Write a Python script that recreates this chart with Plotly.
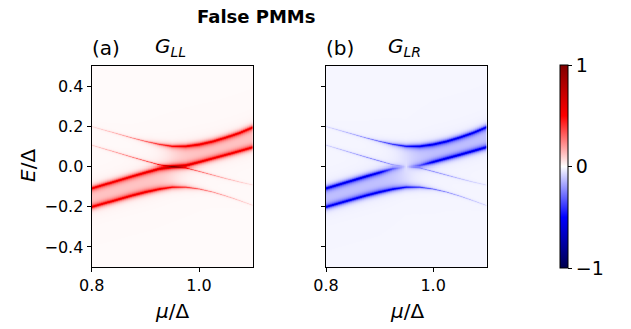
import numpy as np
import plotly.graph_objects as go

# ---- data ----
mu_pts = [0.80, 0.825, 0.85, 0.875, 0.90, 0.925, 0.95, 0.975, 1.00, 1.025, 1.05, 1.075, 1.10]
E_upper = [0.200, 0.181, 0.162, 0.143, 0.126, 0.111, 0.101, 0.101, 0.110, 0.125, 0.145, 0.168, 0.196]
E_lower = [-0.200, -0.181, -0.162, -0.143, -0.126, -0.111, -0.101, -0.101, -0.110, -0.125, -0.145, -0.168, -0.192]
E_asc = [-0.107, -0.087, -0.067, -0.047, -0.028, -0.009, 0.000, 0.005, 0.022, 0.040, 0.058, 0.077, 0.096]
E_desc = [0.107, 0.087, 0.067, 0.047, 0.028, 0.009, 0.000, -0.005, -0.022, -0.040, -0.058, -0.075, -0.090]
# peak strength of each branch (G_LL)
S_upper = [0.06, 0.10, 0.15, 0.21, 0.28, 0.35, 0.40, 0.42, 0.42, 0.42, 0.42, 0.42, 0.42]
S_lower = [0.42, 0.42, 0.42, 0.42, 0.42, 0.42, 0.40, 0.35, 0.28, 0.21, 0.15, 0.10, 0.06]
S_asc = [0.42, 0.42, 0.42, 0.42, 0.44, 0.48, 0.50, 0.48, 0.44, 0.42, 0.42, 0.42, 0.42]
S_desc = [0.08, 0.13, 0.18, 0.24, 0.30, 0.36, 0.38, 0.32, 0.26, 0.20, 0.14, 0.09, 0.05]
# how "broad" each branch is (0 = thin line, 1 = broad line with halo)
K_upper = [0, 0, 0, 0, 0.1, 0.35, 0.6, 0.85, 1, 1, 1, 1, 1]
K_lower = [1, 1, 1, 1, 1, 0.85, 0.6, 0.35, 0.1, 0, 0, 0, 0]
K_asc = [1] * 13
K_desc = [0] * 13
# suppression of the crossing branches in G_LR near zero energy
gap_LR = [1, 1, 1, 1, 0.9, 0.45, 0.0, 0.45, 0.9, 1, 1, 1, 1]
band_level = 0.09
bg_LL, bg_LR = 0.01, 0.018

x_ticks = [0.8, 1.0]
x_ticktext = ["0.8", "1.0"]
y_ticks = [-0.4, -0.2, 0.0, 0.2, 0.4]
y_ticktext = ["\u22120.4", "\u22120.2", "0.0", "0.2", "0.4"]
cb_ticks = [-1, 0, 1]
cb_ticktext = ["\u22121", "0", "1"]

# ---- build maps ----
mu = np.linspace(0.8, 1.1, 241)
E = np.linspace(-0.5, 0.5, 401)
M, EE = np.meshgrid(mu, E)


def interp(a):
    return np.interp(mu, mu_pts, a)[None, :]


def branch(Ec, S, K, G=None):
    ec, s, k = interp(Ec), interp(S), interp(K)
    if G is not None:
        s = s * interp(G)
        g = interp(G)
    else:
        g = 1.0
    w = 0.0025 + 0.0045 * k
    line = s * w ** 2 / ((EE - ec) ** 2 + w ** 2)
    halo = 0.10 * k * g * np.exp(-(EE - ec) ** 2 / (2 * 0.014 ** 2))
    return line + halo


def sig(x):
    return 1.0 / (1.0 + np.exp(-x / 0.006))


wl = 1.0 / (1.0 + np.exp((M - 0.95) / 0.012))
band = wl * sig(EE - interp(E_lower)) * sig(interp(E_asc) - EE) + \
    (1 - wl) * sig(EE - interp(E_asc)) * sig(interp(E_upper) - EE)

zLL = bg_LL + band_level * band + branch(E_upper, S_upper, K_upper) + branch(E_lower, S_lower, K_lower) \
    + branch(E_asc, S_asc, K_asc) + branch(E_desc, S_desc, K_desc)
zLR = -(bg_LR + band_level * band + 0.95 * branch(E_upper, S_upper, K_upper) + 0.95 * branch(E_lower, S_lower, K_lower)
        + branch(E_asc, S_asc, K_asc, gap_LR) + 0.8 * branch(E_desc, S_desc, K_desc, gap_LR))
zLL = np.clip(zLL, -1, 1).astype(np.float32)
zLR = np.clip(zLR, -1, 1).astype(np.float32)

seismic = [[0.0, "rgb(0,0,77)"], [0.25, "rgb(0,0,255)"], [0.5, "rgb(255,255,255)"],
           [0.75, "rgb(255,0,0)"], [1.0, "rgb(128,0,0)"]]

W, H = 631, 329
fig = go.Figure()
fig.add_trace(go.Heatmap(x=mu, y=E, z=zLL, zmin=-1, zmax=1, colorscale=seismic, showscale=False,
                         xaxis="x", yaxis="y", hoverinfo="skip"))
fig.add_trace(go.Heatmap(x=mu, y=E, z=zLR, zmin=-1, zmax=1, colorscale=seismic, showscale=True,
                         xaxis="x2", yaxis="y2", hoverinfo="skip",
                         colorbar=dict(x=560 / W, xanchor="left", xpad=0, ypad=0, thickness=8,
                                       lenmode="pixels", len=203, y=1 - 65 / H, yanchor="top",
                                       outlinewidth=1, outlinecolor="black",
                                       tickvals=cb_ticks, ticktext=cb_ticktext, ticks="outside",
                                       ticklen=4, tickcolor="black",
                                       tickfont=dict(size=19, color="black"))))

axis_common = dict(showgrid=False, zeroline=False, showline=True, mirror=True, linecolor="black",
                   linewidth=1.2, ticks="outside", ticklen=4, tickcolor="black", automargin=False,
                   tickfont=dict(size=16, color="black"))
ydom = [1 - 267 / H, 1 - 66 / H]
fig.update_layout(
    width=W, height=H, margin=dict(l=0, r=0, t=0, b=0, pad=0, autoexpand=False),
    paper_bgcolor="white", plot_bgcolor="white",
    font=dict(family="DejaVu Sans", color="black"),
    xaxis=dict(domain=[91.7 / W, 252.7 / W], range=[0.8, 1.1], tickvals=x_ticks, ticktext=x_ticktext,
               anchor="y", **axis_common),
    yaxis=dict(domain=ydom, range=[-0.5, 0.5], tickvals=y_ticks, ticktext=y_ticktext,
               anchor="x", **axis_common),
    xaxis2=dict(domain=[326 / W, 486.7 / W], range=[0.8, 1.1], tickvals=x_ticks, ticktext=x_ticktext,
                anchor="y2", **axis_common),
    yaxis2=dict(domain=ydom, range=[-0.5, 0.5], tickvals=y_ticks, showticklabels=False,
                anchor="x2", **axis_common),
)

ann = [
    dict(text="<b>False PMMs</b>", x=256 / W, y=1 - 16 / H, xanchor="center", yanchor="middle",
         font=dict(size=18)),
    dict(text="(a)", x=90 / W, y=1 - 48 / H, xanchor="left", yanchor="middle", font=dict(size=20)),
    dict(text="<i>G</i><sub><i>LL</i></sub>", x=153 / W, y=1 - 47 / H, xanchor="left", yanchor="middle",
         font=dict(size=20)),
    dict(text="(b)", x=324 / W, y=1 - 48 / H, xanchor="left", yanchor="middle", font=dict(size=20)),
    dict(text="<i>G</i><sub><i>LR</i></sub>", x=386 / W, y=1 - 47 / H, xanchor="left", yanchor="middle",
         font=dict(size=20)),
    dict(text="<i>E</i>/\u0394", x=28 / W, y=1 - 166 / H, xanchor="center", yanchor="middle",
         textangle=-90, font=dict(size=20)),
    dict(text="<i>\u03bc</i>/\u0394", x=172 / W, y=1 - 311 / H, xanchor="center", yanchor="middle",
         font=dict(size=20)),
    dict(text="<i>\u03bc</i>/\u0394", x=407 / W, y=1 - 311 / H, xanchor="center", yanchor="middle",
         font=dict(size=20)),
]
for a in ann:
    a.update(xref="paper", yref="paper", showarrow=False)
fig.update_layout(annotations=ann)

fig.write_html("out.html", config={"displayModeBar": False},
               post_script="document.body.style.margin='0px';")
